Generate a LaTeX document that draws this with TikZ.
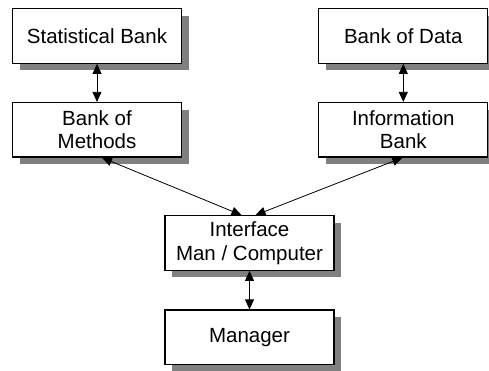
\documentclass[tikz,border=0pt]{standalone}
\usepackage{fontspec}
\setmainfont{Liberation Sans}
\usetikzlibrary{arrows.meta, positioning, shadows}
\definecolor{shadowgray}{RGB}{128, 128, 128}

\begin{document}
\begin{tikzpicture}[
    x=1pt, y=1pt,
    node distance=38pt and 136pt,
    bank/.style={
        rectangle,
        draw=black,
        fill=white,
        line width=1.3pt,
        minimum height=54.5pt,
        minimum width=169pt,
        inner sep=0pt,
        font=\fontsize{20.5}{23.5}\selectfont,
        align=center,
        drop shadow={shadow xshift=7pt, shadow yshift=-7pt, fill=shadowgray, opacity=1}
    },
    link/.style={{Triangle[length=10pt, width=9pt]}-{Triangle[length=10pt, width=9pt]}, line width=0.8pt, draw=black}
]
    \useasboundingbox (0,0) rectangle (489,370);

    \node[bank] at (97,334) (stat) {Statistical Bank};
    \node[bank, right=of stat] (data) {Bank of Data};
    \node[bank, below=of stat] (meth) {Bank of\\Methods};
    \node[bank, below=of data] (info) {Information\\Bank};
    \node[bank] at (249.5,127) (iface) {Interface\\Man / Computer};
    \node[bank, below=38.5pt of iface] (mgr) {Manager};

    \draw[link] (stat) -- (meth);
    \draw[link] (data) -- (info);
    \draw[link] (iface) -- (mgr);
    \draw[link] ([xshift=5pt]meth.south) -- ([xshift=-8pt]iface.north);
    \draw[link] ([xshift=-1pt]info.south) -- ([xshift=6pt]iface.north);
\end{tikzpicture}
\end{document}
